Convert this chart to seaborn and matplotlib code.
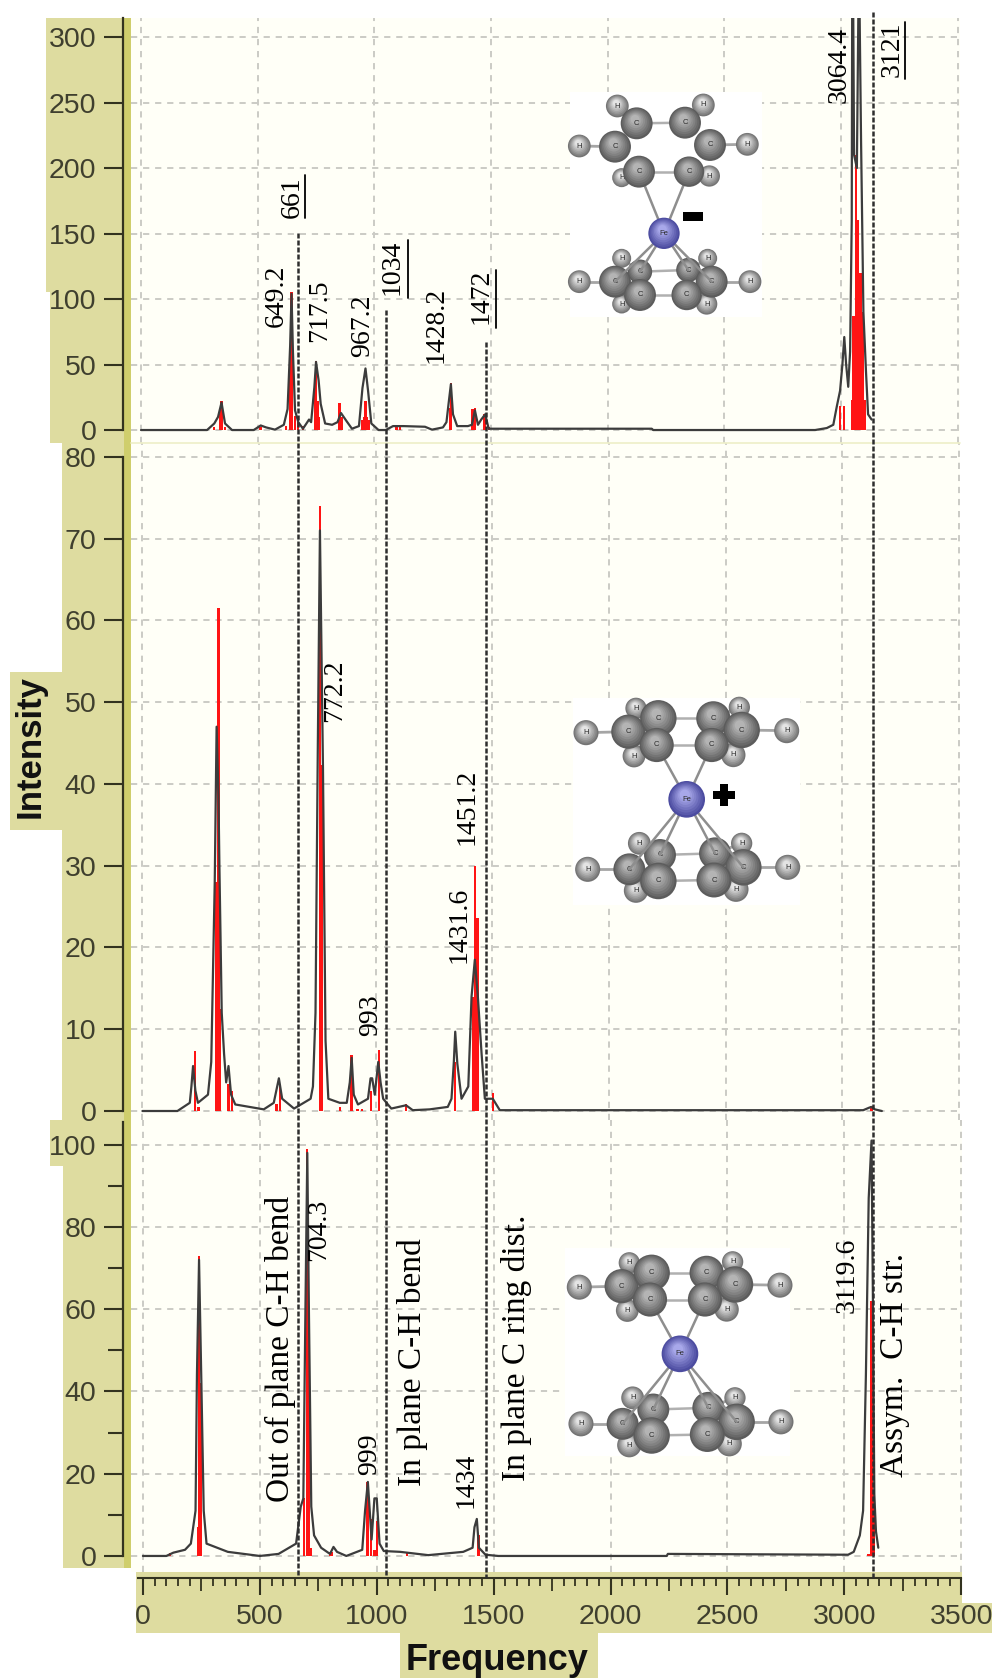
import matplotlib
matplotlib.use("Agg")
import matplotlib.pyplot as plt
from matplotlib.patches import Circle, Rectangle
from matplotlib.ticker import FixedLocator
import seaborn as sns

# broadened spectrum
top_curve_x = [0, 283, 314, 330, 345, 360, 390, 483, 513, 536, 574, 612, 628, 639, 645, 651, 660, 674, 694, 720, 729,
               743, 750, 761, 770, 789, 819, 842, 857, 880, 904, 934, 949, 962, 973, 987, 1018, 1049, 1080, 1125, 1217,
               1247, 1294, 1309, 1318, 1328, 1337, 1355, 1401, 1418, 1431, 1444, 1458, 1475, 1490, 2189, 2195, 2889,
               2939, 2967, 2982, 2996, 3006, 3014, 3022, 3031, 3039, 3046, 3048, 3052, 3056, 3068, 3075, 3079, 3086,
               3096, 3107, 3116, 3131]
top_curve_y = [0, 0, 5, 10, 21, 5, 0, 0, 3.5, 2, 0.3, 4, 16, 64, 104, 60, 15, 6, 1, 8, 6,
               33, 52, 38, 20, 5, 4, 6, 13, 7, 1, 3, 32, 47, 30, 5, 0, 0, 3, 3, 2.5,
               0.3, 2, 6, 20, 35, 12, 3, 3, 4, 15, 4, 8, 12, 1, 1, 0, 0,
               1.5, 4, 18, 30, 50, 71, 50, 33, 60, 160, 330, 330, 210, 200, 330, 330, 220,
               90, 45, 12, 8]
top_stick_x = [314, 340, 345, 360, 512, 620, 640, 645, 660, 672, 695, 745, 750, 757, 762, 850, 862, 948, 955, 962, 968,
               975, 1095, 1110, 1325, 1328, 1420, 1432, 1472, 1490, 2996, 3012, 3046, 3053, 3064, 3074, 3084, 3093, 3100]
top_stick_y = [2, 12, 22, 2, 2, 3, 61, 105, 11, 10, 3, 32, 53, 22, 10, 21, 10, 8, 10, 22, 10,
               8, 2, 2, 17, 36, 16, 17, 12, 2, 18, 18, 23, 87, 210, 160, 120, 90, 23]

mid_curve_x = [0, 150, 203, 210, 217, 227, 238, 281, 295, 310, 318, 326, 330, 340, 350, 359, 369, 380, 398, 520, 563,
               585, 599, 650, 721, 731, 742, 752, 761, 774, 785, 797, 846, 876, 889, 897, 906, 924, 967, 978, 985, 996,
               1011, 1021, 1032, 1067, 1130, 1159, 1231, 1309, 1325, 1335, 1341, 1350, 1368, 1397, 1411, 1425, 1438,
               1454, 1468, 1502, 1532, 3090, 3115, 3125, 3140, 3170]
mid_curve_y = [0, 0, 1, 3, 5.5, 2.5, 1, 2, 6, 28, 47, 38.6, 30, 12, 7, 3.5, 5.5, 2, 0.8, 0.2, 1,
               4, 1.5, 0.3, 1.5, 3, 12, 45, 71, 42, 8.6, 1.5, 1, 1, 3.5, 6.5, 2, 0.8, 1.5, 4, 4, 2,
               6, 3.5, 1.5, 0.3, 0.7, 0.1, 0.2, 0.5, 1.5, 6, 9.7, 5.8, 1.5, 3, 14, 18.5, 14,
               7, 1.5, 1.5, 0.1, 0.1, 0.4, 0.5, 0.2, 0]
mid_stick_x = [225, 240, 318, 326, 333, 369, 385, 575, 590, 761, 769, 846, 897, 922, 940, 980, 1014, 1130, 1340, 1420,
               1427, 1437, 1502, 3125]
mid_stick_y = [7.3, 0.5, 28, 61.5, 12.5, 3.3, 2.5, 0.8, 3, 74, 42.3, 0.5, 6.8, 0.3, 0.3, 2.4, 7.5, 0.8, 6, 14,
               30, 23.6, 2.2, 0.6]

bot_curve_x = [0, 100, 130, 180, 205, 225, 231, 240, 250, 260, 272, 363, 500, 580, 655, 675, 686, 695, 703, 710, 720,
               732, 762, 800, 815, 830, 870, 938, 950, 962, 978, 990, 1000, 1012, 1030, 1100, 1220, 1370, 1410, 1418,
               1428, 1437, 1465, 1520, 2240, 2245, 3016, 3040, 3066, 3080, 3092, 3104, 3116, 3122, 3128, 3135, 3145]
bot_curve_y = [0, 0, 0.8, 1.5, 3, 11, 44, 72, 42, 11, 3, 1, 0, 0.5, 3, 12, 14, 60, 98, 59, 12,
               5, 2, 0.5, 2.2, 1, 0, 1.5, 11, 18, 4, 14, 14, 3, 1.2, 1, 0.2, 1, 2, 7,
               9, 2, 0.3, 0, 0, 0.5, 0.3, 1, 5, 11, 44, 87, 101, 62, 15, 6, 2]
bot_stick_x = [115, 235, 240, 248, 690, 703, 710, 720, 800, 810, 960, 975, 990, 1000, 1130, 1435, 3100, 3108, 3116, 3125]
bot_stick_y = [0.6, 7, 73, 42, 14, 99, 58, 2, 1, 1, 18, 9, 1.5, 8.5, 1, 5, 0.4, 0.4, 62, 15]

top_ticks = [0, 50, 100, 150, 200, 250, 300]
mid_ticks = [0, 10, 20, 30, 40, 50, 60, 70, 80]
bot_ticks = [0, 20, 40, 60, 80, 100]
bot_minor_ticks = [10, 30, 50, 70, 90]
x_ticks = [0, 500, 1000, 1500, 2000, 2500, 3000, 3500]

KHAKI = "#DEDCA0"
STRIPE = "#CFCE6C"
PANEL = "#FFFFF7"
GRID = "#CBCBC5"
INK = "#3F3F2E"
LINE = "#3C3C3C"

sns.set_theme(style="ticks")
plt.rcParams["font.family"] = ["Liberation Sans", "DejaVu Sans"]

W, H = 992, 1678
fig = plt.figure(figsize=(W / 100, H / 100), dpi=100, facecolor="white")


def px_axes(left, top, right, bottom, **kw):
    return fig.add_axes([left / W, 1 - bottom / H, (right - left) / W, (bottom - top) / H], **kw)


# background strips behind the axes
back = px_axes(0, 0, W, H, zorder=0)
back.set_xlim(0, W)
back.set_ylim(H, 0)
back.axis("off")
for l, t, r, b in [(46, 18, 131, 292), (50, 292, 131, 443), (62, 443, 131, 1120), (50, 1120, 131, 1166),
                   (63, 1166, 131, 1568), (136, 1570, 962, 1603), (136, 1603, 992, 1633), (400, 1633, 598, 1678),
                   (10, 672, 62, 830)]:
    back.add_patch(Rectangle((l, t), r - l, b - t, color=KHAKI, lw=0))
back.add_patch(Rectangle((124, 18), 7, 1550, color=STRIPE, lw=0))


def panel(box, xlim, ylim, cx, cy, sx, sy, ticks, axis_top):
    ax = px_axes(*box, zorder=1, facecolor=PANEL)
    ax.bar(sx, sy, width=10, color="#FF1414", linewidth=0, zorder=2)
    sns.lineplot(x=cx, y=cy, ax=ax, sort=False, estimator=None, color=LINE, linewidth=1.6, zorder=3)
    ax.set_xlim(*xlim)
    ax.set_ylim(*ylim)
    ax.set_xticks(x_ticks)
    ax.set_yticks(ticks)
    ax.set_yticklabels([str(t) for t in ticks])
    ax.set_xlabel("")
    ax.set_ylabel("")
    ax.set_axisbelow(True)
    ax.grid(True, color=GRID, linewidth=1.4, linestyle=(0, (3.2, 3)))
    for s in ["top", "right", "bottom"]:
        ax.spines[s].set_visible(False)
    ax.spines["left"].set_position(("outward", 5.8))
    ax.spines["left"].set_bounds(0, axis_top)
    ax.spines["left"].set_color("#33331F")
    ax.spines["left"].set_linewidth(1.6)
    ax.tick_params(axis="y", length=13.5, width=1.5, color="#33331F", pad=5.5, labelsize=20.5, labelcolor=INK)
    ax.tick_params(axis="x", bottom=False, labelbottom=False)
    return ax


ax_top = panel((131, 18, 960, 443), (-43, 3510), (-9.9, 314.5), top_curve_x, top_curve_y,
               top_stick_x, top_stick_y, top_ticks, 314.5)
ax_mid = panel((131, 443, 960, 1120), (-49, 3505), (-1.1, 81.7), mid_curve_x, mid_curve_y,
               mid_stick_x, mid_stick_y, mid_ticks, 80)
ax_bot = panel((131, 1120, 962, 1572), (-51, 3503), (-3.9, 106), bot_curve_x, bot_curve_y,
               bot_stick_x, bot_stick_y, bot_ticks, 105.5)

# the bottom panel has unlabelled ticks between the numbers
ax_bot.yaxis.set_minor_locator(FixedLocator(bot_minor_ticks))
ax_bot.tick_params(axis="y", which="minor", length=11, width=1.5, color="#33331F")

# shared frequency scale under the bottom panel
ax_bot.spines["bottom"].set_visible(True)
ax_bot.spines["bottom"].set_position(("outward", 4.3))
ax_bot.spines["bottom"].set_bounds(-22, 3500)
ax_bot.spines["bottom"].set_color("#33331F")
ax_bot.spines["bottom"].set_linewidth(1.5)
ax_bot.xaxis.set_minor_locator(FixedLocator(list(range(0, 3501, 50))))
ax_bot.tick_params(axis="x", bottom=True, labelbottom=True, length=12.5, width=1.5, color="#33331F",
                   pad=6, labelsize=20.5, labelcolor=INK)
ax_bot.tick_params(axis="x", which="minor", length=6, width=1.3, color="#33331F")
for loc, tick in zip(ax_bot.xaxis.get_minorticklocs(), ax_bot.xaxis.get_minor_ticks()):
    if loc % 500 == 250:
        tick.tick1line.set_markersize(9)

# everything hand placed on the picture goes on a pixel overlay
over = px_axes(0, 0, W, H, zorder=5)
over.set_xlim(0, W)
over.set_ylim(H, 0)
over.axis("off")
over.patch.set_alpha(0)

# pale seam between the top and middle panels
over.plot([131, 960], [443, 443], color="#EEEFC8", lw=1.2, zorder=1)


def sphere(x, y, r, dark, light, label=None, z=3):
    steps = 8
    c0 = matplotlib.colors.to_rgb(dark)
    c1 = matplotlib.colors.to_rgb(light)
    for i in range(steps):
        f = i / (steps - 1)
        col = [a + (b - a) * f for a, b in zip(c0, c1)]
        over.add_patch(Circle((x - 0.1 * r * f, y - 0.25 * r * f), r * (1 - 0.72 * f), color=col, lw=0, zorder=z))
    if label:
        over.text(x, y, label, fontsize=5.5, color="#2A2A2A", ha="center", va="center", zorder=z + 0.1)


def molecule(ox, oy, s, rect, fe, carbons, hydrogens):
    over.add_patch(Rectangle((ox + rect[0] * s, oy + rect[1] * s), (rect[2] - rect[0]) * s, (rect[3] - rect[1]) * s,
                             color="white", lw=0, zorder=2))
    grow = 1.14
    fx, fy = ox + fe[0] * s, oy + fe[1] * s
    pts_c = [(ox + a * s, oy + b * s, r * s * grow) for a, b, r in carbons]
    pts_h = [(ox + a * s, oy + b * s, r * s * grow) for a, b, r in hydrogens]
    # C-H bonds
    for (cxx, cyy, _), (hx, hy, _) in zip(pts_c, pts_h):
        over.plot([cxx, hx], [cyy, hy], color="#A5A5A5", lw=2, zorder=2.2)
    # Cp rings, left and right carbons joined across the gap
    for ring in (pts_c[:6], pts_c[6:]):
        for a, b in [(1, 3), (2, 5)]:
            over.plot([ring[a][0], ring[b][0]], [ring[a][1], ring[b][1]], color="#B0B0B0", lw=1.8, zorder=2.2)
    for n, (cxx, cyy, _) in enumerate(pts_c):
        zb = 3.15 if n < 6 else 3.7
        if n in (2, 5, 6, 7, 9, 10):
            over.plot([fx, cxx], [fy, cyy], color="#8E8E8E", lw=1.8, zorder=zb)
    for hx, hy, r in pts_h:
        sphere(hx, hy, r, "#747474", "#E4E4E4", "H")
    for cxx, cyy, r in pts_c:
        sphere(cxx, cyy, r, "#5C5C5C", "#B4B4B4", "C", z=3.2)
    sphere(fx, fy, fe[2] * s, "#4C4CA0", "#A8A8EA", "Fe", z=4)


carb_a = [(225, 440, 42), (290, 370, 42), (297, 515, 42), (435, 368, 42), (510, 435, 42), (447, 515, 40),
          (225, 845, 42), (300, 815, 32), (300, 885, 42), (445, 810, 32), (515, 845, 42), (440, 885, 40)]
hyd_a = [(118, 438, 30), (232, 318, 30), (245, 533, 25), (490, 315, 30), (622, 433, 30), (508, 528, 28),
         (118, 845, 30), (245, 775, 25), (245, 912, 25), (503, 775, 25), (630, 845, 30), (500, 912, 28)]
carb_b = [(205, 155, 45), (295, 115, 48), (290, 195, 45), (460, 115, 45), (545, 150, 48), (455, 195, 45),
          (208, 568, 42), (300, 525, 42), (295, 603, 48), (465, 520, 42), (550, 562, 48), (462, 600, 46)]
hyd_b = [(78, 158, 33), (228, 85, 28), (222, 228, 30), (538, 82, 28), (680, 152, 33), (520, 225, 32),
         (83, 568, 33), (238, 490, 30), (228, 632, 32), (545, 490, 28), (683, 562, 33), (528, 628, 33)]

molecule(540, 0, 1 / 3, (90, 275, 665, 950), (372, 700, 47), carb_a, hyd_a)
molecule(560, 680, 1 / 3, (40, 55, 720, 675), (380, 358, 55), carb_b, hyd_b)
molecule(553.3, 1234.5, 1 / 3, (35, 40, 710, 665), (380, 358, 55), carb_b, hyd_b)

# charge marks
over.add_patch(Rectangle((683, 212), 20, 9, color="black", lw=0, zorder=4))
over.add_patch(Rectangle((713, 791), 22, 8, color="black", lw=0, zorder=4))
over.add_patch(Rectangle((720, 784), 8, 22, color="black", lw=0, zorder=4))

# hand drawn guide lines at the labelled modes
for gx, gtop in [(298, 233), (386, 310), (486, 342), (873, 12)]:
    over.plot([gx, gx], [gtop, 1578], color="#2E2E2E", lw=1.8, linestyle=(0, (2, 0.8)), zorder=4.5)

# rotated annotations: text, centre x, centre y
serif = ["Liberation Serif", "DejaVu Serif"]
small_labels = [("661", 292, 197), ("649.2", 276, 296), ("717.5", 320, 311), ("967.2", 363, 326),
                ("1034", 392, 267), ("1428.2", 436, 325), ("1472", 481, 296), ("3064.4", 839, 65),
                ("3121", 892, 49), ("772.2", 335, 691), ("1451.2", 467, 807), ("1431.6", 459, 925),
                ("993", 371, 1015), ("704.3", 319, 1230), ("999", 370, 1454), ("1434", 466, 1480),
                ("3119.6", 847, 1275)]
big_labels = [("Out of plane C-H bend", 280, 1349), ("In plane C-H bend", 413, 1362),
              ("In plane C ring dist.", 516, 1348), ("Assym.  C-H str.", 895, 1365)]
for s, x, y in small_labels:
    over.text(x, y, s, rotation=90, family=serif, fontsize=20, color="black", ha="center", va="center", zorder=6)
for s, x, y in big_labels:
    over.text(x, y, s, rotation=90, family=serif, fontsize=24, color="black", ha="center", va="center", zorder=6)

# underlines on the assigned experimental values
for ux, u0, u1 in [(305, 175, 218), (408, 240, 298), (496, 270, 328), (905, 22, 79)]:
    over.plot([ux, ux], [u0, u1], color="black", lw=1.3, zorder=6)

over.text(30, 746, "Intensity", rotation=90, fontsize=25, fontweight="bold", color="#111111",
          ha="center", va="center", zorder=6)
over.text(497, 1660, "Frequency", fontsize=26, fontweight="bold", color="#111111",
          ha="center", va="center", zorder=6)

fig.savefig("out.png", dpi=100)
